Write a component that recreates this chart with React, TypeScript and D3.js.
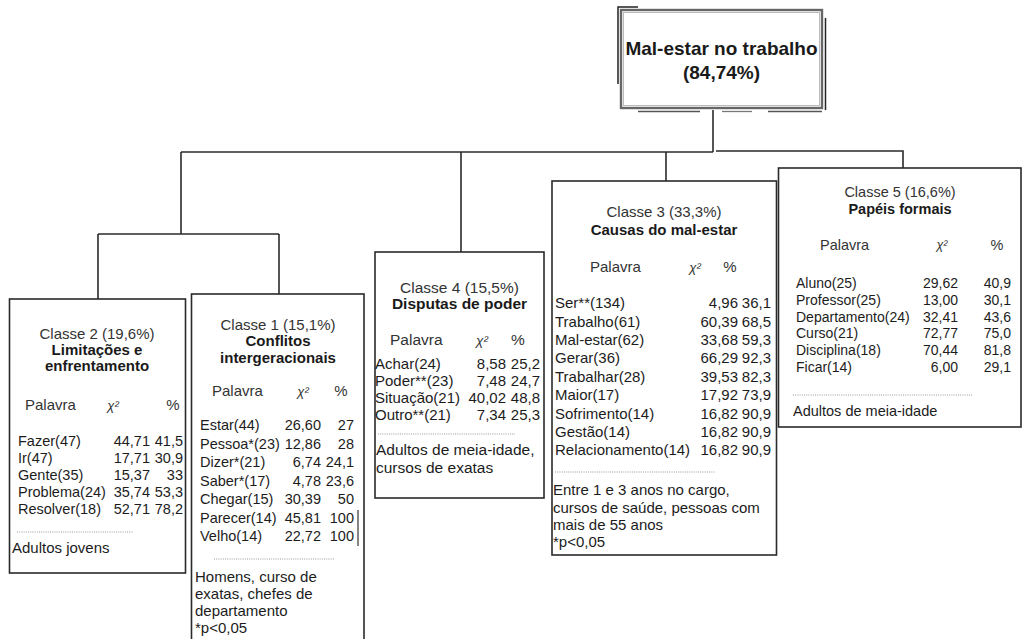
import React from "react";
import * as d3 from "d3";

// ---------- data ----------
const rootTitle = ["Mal-estar no trabalho", "(84,74%)"];

const c2Title = "Classe 2 (19,6%)";
const c2Name = ["Limitações e", "enfrentamento"];
const c2Words = ["Fazer(47)", "Ir(47)", "Gente(35)", "Problema(24)", "Resolver(18)"];
const c2Chi = ["44,71", "17,71", "15,37", "35,74", "52,71"];
const c2Pct = ["41,5", "30,9", "33", "53,3", "78,2"];
const c2Foot = ["Adultos jovens"];

const c1Title = "Classe 1 (15,1%)";
const c1Name = ["Conflitos", "intergeracionais"];
const c1Words = ["Estar(44)", "Pessoa*(23)", "Dizer*(21)", "Saber*(17)", "Chegar(15)", "Parecer(14)", "Velho(14)"];
const c1Chi = ["26,60", "12,86", "6,74", "4,78", "30,39", "45,81", "22,72"];
const c1Pct = ["27", "28", "24,1", "23,6", "50", "100", "100"];
const c1Foot = ["Homens, curso de", "exatas, chefes de", "departamento", "*p<0,05"];

const c4Title = "Classe 4 (15,5%)";
const c4Name = ["Disputas de poder"];
const c4Words = ["Achar(24)", "Poder**(23)", "Situação(21)", "Outro**(21)"];
const c4Chi = ["8,58", "7,48", "40,02", "7,34"];
const c4Pct = ["25,2", "24,7", "48,8", "25,3"];
const c4Foot = ["Adultos de meia-idade,", "cursos de exatas"];

const c3Title = "Classe 3 (33,3%)";
const c3Name = ["Causas do mal-estar"];
const c3Words = ["Ser**(134)", "Trabalho(61)", "Mal-estar(62)", "Gerar(36)", "Trabalhar(28)", "Maior(17)", "Sofrimento(14)", "Gestão(14)", "Relacionamento(14)"];
const c3Chi = ["4,96", "60,39", "33,68", "66,29", "39,53", "17,92", "16,82", "16,82", "16,82"];
const c3Pct = ["36,1", "68,5", "59,3", "92,3", "82,3", "73,9", "90,9", "90,9", "90,9"];
const c3Foot = ["Entre 1 e 3 anos no cargo,", "cursos de saúde, pessoas com", "mais de 55 anos", "*p<0,05"];

const c5Title = "Classe 5 (16,6%)";
const c5Name = ["Papéis formais"];
const c5Words = ["Aluno(25)", "Professor(25)", "Departamento(24)", "Curso(21)", "Disciplina(18)", "Ficar(14)"];
const c5Chi = ["29,62", "13,00", "32,41", "72,77", "70,44", "6,00"];
const c5Pct = ["40,9", "30,1", "43,6", "75,0", "81,8", "29,1"];
const c5Foot = ["Adultos de meia-idade"];

const headers = ["Palavra", "χ²", "%"];

// ---------- layout ----------
const W = 1022;
const H = 639;
const FONT = "'Liberation Sans', Arial, Helvetica, sans-serif";
const INK = "#1c1c1c";

type Layout = {
  x0: number; x1: number; y0: number; y1: number;
  cx: number; titleY: number; nameY0: number; nameStep: number;
  headY: number; hPal: number; hChi: number; hPct: number;
  rowY0: number; rowStep: number; wordX: number; chiR: number; pctR: number;
  dotY: number; dotX0: number; dotX1: number;
  footX: number; footY0: number; footStep: number; fs: number; rfs: number;
};

const L2: Layout = { x0: 9.5, x1: 185.5, y0: 299, y1: 573, cx: 97, titleY: 334, nameY0: 350, nameStep: 16,
  headY: 405, hPal: 25, hChi: 113, hPct: 173, rowY0: 441, rowStep: 17, wordX: 18, chiR: 150, pctR: 183,
  dotY: 532, dotX0: 17, dotX1: 133, footX: 12, footY0: 548, footStep: 17, fs: 15, rfs: 14.5 };
const L1: Layout = { x0: 191.5, x1: 364, y0: 294, y1: 660, cx: 278, titleY: 325, nameY0: 341, nameStep: 17,
  headY: 391, hPal: 212, hChi: 303, hPct: 341, rowY0: 425, rowStep: 18.5, wordX: 200, chiR: 321, pctR: 354,
  dotY: 559, dotX0: 214, dotX1: 334, footX: 195, footY0: 577, footStep: 17, fs: 15, rfs: 14.5 };
const L4: Layout = { x0: 375, x1: 544, y0: 252, y1: 498, cx: 459.5, titleY: 288, nameY0: 304, nameStep: 17,
  headY: 340, hPal: 390, hChi: 482, hPct: 518, rowY0: 364, rowStep: 17, wordX: 375, chiR: 506, pctR: 540,
  dotY: 434, dotX0: 378, dotX1: 515, footX: 376, footY0: 450, footStep: 18, fs: 15.5, rfs: 15 };
const L3: Layout = { x0: 552, x1: 776.5, y0: 181, y1: 555, cx: 664, titleY: 212, nameY0: 230, nameStep: 18,
  headY: 267, hPal: 590, hChi: 695, hPct: 730, rowY0: 303, rowStep: 18.4, wordX: 555, chiR: 738, pctR: 771,
  dotY: 472, dotX0: 555, dotX1: 715, footX: 553, footY0: 490, footStep: 17.3, fs: 15, rfs: 15 };
const L5: Layout = { x0: 778.5, x1: 1021, y0: 168, y1: 427, cx: 900, titleY: 192, nameY0: 209, nameStep: 17,
  headY: 245, hPal: 820, hChi: 942, hPct: 997, rowY0: 283, rowStep: 16.8, wordX: 796, chiR: 958, pctR: 1011,
  dotY: 395, dotX0: 793, dotX1: 973, footX: 793, footY0: 411, footStep: 17, fs: 14.5, rfs: 14 };

type BoxProps = {
  L: Layout; title: string; name: string[]; words: string[]; chi: string[]; pct: string[]; foot: string[];
};

function ClassBox({ L, title, name, words, chi, pct, foot }: BoxProps) {
  const idx = words.map((_, i) => String(i));
  const rowY = d3.scalePoint<string>().domain(idx).range([L.rowY0, L.rowY0 + L.rowStep * (words.length - 1)]);
  const fIdx = foot.map((_, i) => String(i));
  const footY = d3.scalePoint<string>().domain(fIdx).range([L.footY0, L.footY0 + L.footStep * Math.max(0, foot.length - 1)]);
  const nIdx = name.map((_, i) => String(i));
  const nameY = d3.scalePoint<string>().domain(nIdx).range([L.nameY0, L.nameY0 + L.nameStep * Math.max(0, name.length - 1)]);
  const fs = L.fs;
  return (
    <g fontFamily={FONT} fontSize={fs} fill={INK}>
      <rect x={L.x0} y={L.y0} width={L.x1 - L.x0} height={L.y1 - L.y0} fill="white" stroke="#2a2a2a" strokeWidth={1.6} />
      <text x={L.cx} y={L.titleY} dy="0.35em" textAnchor="middle" fill="#333">{title}</text>
      {name.map((n, i) => (
        <text key={n} x={L.cx} y={nameY(String(i))} dy="0.35em" textAnchor="middle" fontWeight="bold" fill="#1a1a1a">{n}</text>
      ))}
      <text x={L.hPal} y={L.headY} dy="0.35em" fill="#333">{headers[0]}</text>
      <text x={L.hChi} y={L.headY} dy="0.35em" textAnchor="middle" fontStyle="italic" fontSize={fs - 2} fill="#333">{headers[1]}</text>
      <text x={L.hPct} y={L.headY} dy="0.35em" textAnchor="middle" fill="#333">{headers[2]}</text>
      <g fontSize={L.rfs}>
        {words.map((w, i) => (
          <g key={w + i}>
            <text x={L.wordX} y={rowY(String(i))} dy="0.35em">{w}</text>
            <text x={L.chiR} y={rowY(String(i))} dy="0.35em" textAnchor="end">{chi[i]}</text>
            <text x={L.pctR} y={rowY(String(i))} dy="0.35em" textAnchor="end">{pct[i]}</text>
          </g>
        ))}
      </g>
      <line x1={L.dotX0} x2={L.dotX1} y1={L.dotY} y2={L.dotY} stroke="#999" strokeWidth={1} strokeDasharray="1,1.2" />
      {foot.map((f, i) => (
        <text key={f} x={L.footX} y={footY(String(i))} dy="0.35em">{f}</text>
      ))}
    </g>
  );
}

export default function App() {
  const topX = 713;
  const line = d3.line<[number, number]>();
  const connectors: [number, number][][] = [
    [[topX, 110], [topX, 152]],
    [[181, 152], [topX, 152]],
    [[181, 152], [181, 234]],
    [[98, 234], [279, 234]],
    [[98, 234], [98, L2.y0]],
    [[279, 234], [279, L1.y0]],
    [[461, 152], [461, L4.y0]],
    [[666, 152], [666, L3.y0]],
    [[716, 151], [903, 151], [903, L5.y0]],
  ];
  return (
    <svg width={W} height={H} viewBox={`0 0 ${W} ${H}`} style={{ position: "absolute", left: 0, top: 0, background: "white" }}>
      <rect x={0} y={0} width={W} height={H} fill="white" />
      {connectors.map((c, i) => (
        <path key={i} d={line(c) || ""} fill="none" stroke="#2a2a2a" strokeWidth={1.6} />
      ))}
      {/* root box */}
      <g>
        <rect x={621} y={10} width={201} height={98} fill="white" stroke="#666" strokeWidth={2.4} />
        <rect x={623.5} y={12.5} width={196} height={93} fill="none" stroke="#bbb" strokeWidth={1} />
        <path d={line([[618, 84], [618, 7], [638, 7]]) || ""} fill="none" stroke="#222" strokeWidth={1.5} />
        <path d={line([[825.5, 18], [825.5, 110]]) || ""} fill="none" stroke="#222" strokeWidth={1.5} />
        <path d={line([[638, 111.5], [700, 111.5]]) || ""} fill="none" stroke="#555" strokeWidth={1.3} />
        <path d={line([[722, 111.5], [752, 111.5]]) || ""} fill="none" stroke="#777" strokeWidth={1.3} />
        <path d={line([[768, 111.5], [822, 111.5]]) || ""} fill="none" stroke="#555" strokeWidth={1.3} />
        {rootTitle.map((t, i) => (
          <text key={t} x={721.5} y={48 + i * 24} dy="0.35em" textAnchor="middle" fontFamily={FONT} fontWeight="bold" fontSize={19} fill="#1a1a1a">{t}</text>
        ))}
      </g>
      <ClassBox L={L2} title={c2Title} name={c2Name} words={c2Words} chi={c2Chi} pct={c2Pct} foot={c2Foot} />
      <ClassBox L={L1} title={c1Title} name={c1Name} words={c1Words} chi={c1Chi} pct={c1Pct} foot={c1Foot} />
      <line x1={358} x2={358} y1={510} y2={546} stroke="#333" strokeWidth={1.2} />
      <ClassBox L={L4} title={c4Title} name={c4Name} words={c4Words} chi={c4Chi} pct={c4Pct} foot={c4Foot} />
      <ClassBox L={L3} title={c3Title} name={c3Name} words={c3Words} chi={c3Chi} pct={c3Pct} foot={c3Foot} />
      <ClassBox L={L5} title={c5Title} name={c5Name} words={c5Words} chi={c5Chi} pct={c5Pct} foot={c5Foot} />
    </svg>
  );
}
